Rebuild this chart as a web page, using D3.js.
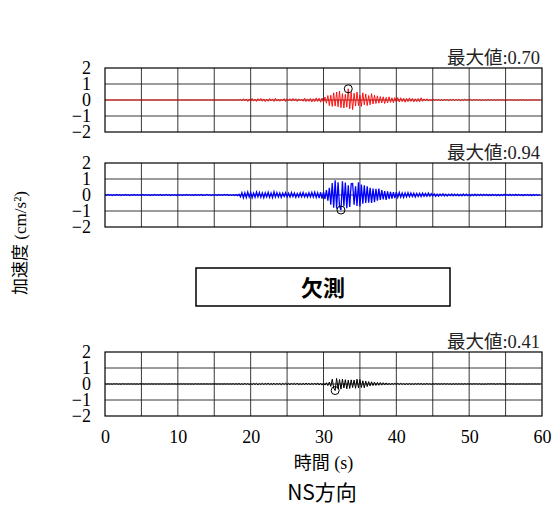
<!DOCTYPE html>
<html><head><meta charset="utf-8">
<script src="https://cdn.jsdelivr.net/npm/d3@7"></script>
<style>
body{margin:0;background:#fff;}
svg{display:block;}
</style></head>
<body>
<svg id="chart" width="554" height="507"></svg>
<script>
// ---- data ----
const dt = 0.2; // seconds per sample
const xTicks = [0,10,20,30,40,50,60];
const yTicks = [2,1,0,-1,-2];
const maxLabel = "最大値:";
const yLabel = "加速度 (cm/s²)";
const xLabel = "時間 (s)";
const missingLabel = "欠測";
const title = "NS方向";

const seriesTop = [
0,0,0,0,0,0,0,0,0,0,
0,0,0,0,0,0,0,0,0,0,
0,0,0,0,0,0,0,0,0,0,
0,0,0,0,0,0,0,0,0,0,
0,0,0,0,0,0,0,0,0,0,
0,0,0,0,0,0,0,0,0,0,
0,0,0,0,0,0,0,0,0,0,
0,0,0,0,0,0,0,0,0,0,
0,0,0,0,0,0,0,0,0,0,
0,0,0,0.04,-0.06,0.08,-0.05,0.07,-0.09,0.06,
-0.08,0.1,-0.07,0.05,-0.09,0.08,-0.06,0.1,-0.08,0.07,
-0.1,0.06,-0.08,0.09,-0.05,0.07,-0.09,0.11,-0.07,0.06,
-0.08,0.05,-0.06,0.09,-0.1,0.07,-0.05,0.08,-0.07,0.1,
-0.06,0.08,-0.09,0.07,-0.05,0.06,-0.08,0.12,-0.1,0.07,
-0.09,0.1,-0.12,0.08,-0.1,0.13,-0.09,0.11,-0.14,0.12,
-0.15,0.18,-0.2,0.28,-0.35,0.3,-0.4,0.45,-0.38,0.5,
-0.42,0.55,-0.48,0.4,-0.5,0.35,-0.45,0.7,-0.55,0.48,
-0.6,0.42,-0.38,0.5,-0.35,0.3,-0.4,0.45,-0.3,0.38,
-0.35,0.28,-0.3,0.4,-0.25,0.3,-0.22,0.26,-0.2,0.22,
-0.18,0.2,-0.22,0.16,-0.18,0.2,-0.15,0.14,-0.17,0.15,
-0.13,0.15,-0.12,0.14,-0.1,0.12,-0.14,0.11,-0.1,0.13,
-0.09,0.1,-0.12,0.08,-0.1,0.09,-0.11,0.14,-0.08,0.07,
-0.06,0.08,-0.07,0.05,-0.06,0.07,-0.05,0.06,-0.04,0.05,
-0.05,0.04,-0.06,0.05,-0.04,0.06,-0.05,0.04,-0.03,0.05,
-0.04,0.05,-0.03,0.04,-0.05,0.03,-0.04,0.05,-0.03,0.04,
-0.03,0.04,-0.04,0.03,-0.02,0.04,-0.03,0.03,-0.04,0.02,
-0.03,0.02,-0.03,0.04,-0.02,0.03,-0.02,0.03,-0.03,0.02,
-0.02,0.03,-0.02,0.02,-0.03,0.02,-0.02,0.03,-0.02,0.02,
-0.02,0.02,-0.03,0.02,-0.02,0.02,-0.01,0.02,-0.02,0.01,
-0.02,0.01,-0.02,0.02,-0.01,0.02,-0.01,0.01,-0.02,0.01
];

const seriesMid = [
0.02,-0.02,0.03,-0.02,0.02,-0.03,0.02,-0.02,0.03,-0.02,
0.02,-0.03,0.02,-0.02,0.03,-0.02,0.02,-0.03,0.02,-0.02,
0.03,-0.02,0.02,-0.02,0.02,-0.03,0.03,-0.02,0.02,-0.02,
0.02,-0.03,0.02,-0.02,0.03,-0.02,0.02,-0.02,0.03,-0.03,
0.02,-0.02,0.03,-0.02,0.02,-0.03,0.02,-0.02,0.02,-0.03,
0.03,-0.02,0.02,-0.03,0.02,-0.02,0.03,-0.02,0.02,-0.02,
0.02,-0.03,0.03,-0.02,0.02,-0.02,0.03,-0.03,0.02,-0.02,
0.03,-0.02,0.02,-0.03,0.02,-0.02,0.02,-0.03,0.03,-0.02,
0.02,-0.02,0.03,-0.02,0.03,-0.03,0.02,-0.02,0.02,-0.03,
0.03,-0.04,0.05,-0.12,0.15,-0.18,0.14,-0.16,0.19,-0.13,
0.15,-0.17,0.12,-0.14,0.18,-0.12,0.16,-0.15,0.13,-0.17,
0.14,-0.12,0.17,-0.15,0.12,-0.16,0.2,-0.13,0.15,-0.12,
0.13,-0.15,0.12,-0.1,0.14,-0.12,0.11,-0.13,0.15,-0.1,
0.12,-0.14,0.1,-0.12,0.13,-0.11,0.15,-0.12,0.1,-0.13,
0.14,-0.12,0.16,-0.13,0.18,-0.15,0.14,-0.2,0.17,-0.22,
0.2,-0.25,0.3,-0.35,0.45,-0.6,0.75,-0.8,0.92,-0.85,
0.8,-0.7,-0.94,0.85,-0.7,0.78,-0.82,0.6,-0.75,0.7,
0.72,-0.6,0.55,-0.68,0.8,-0.72,0.65,-0.55,0.6,-0.5,
0.55,-0.48,0.45,-0.5,0.4,-0.45,0.38,-0.35,0.4,-0.3,
0.3,-0.28,0.25,-0.3,0.22,-0.25,0.2,-0.22,0.18,-0.2,
0.18,-0.15,0.16,-0.14,0.12,-0.15,0.13,-0.12,0.14,-0.11,
0.12,-0.1,0.11,-0.12,0.1,-0.09,0.11,-0.1,0.12,-0.08,
0.1,-0.08,0.12,-0.07,0.08,-0.06,0.07,-0.08,0.06,-0.07,
0.06,-0.05,0.07,-0.06,0.05,-0.06,0.05,-0.04,0.06,-0.05,
0.05,-0.04,0.05,-0.05,0.04,-0.05,0.06,-0.04,0.05,-0.04,
0.04,-0.05,0.04,-0.04,0.05,-0.04,0.04,-0.03,0.04,-0.04,
0.04,-0.03,0.04,-0.04,0.03,-0.04,0.04,-0.03,0.03,-0.04,
0.03,-0.04,0.03,-0.03,0.04,-0.03,0.03,-0.03,0.04,-0.03,
0.03,-0.03,0.04,-0.03,0.03,-0.03,0.03,-0.04,0.03,-0.03,
0.03,-0.03,0.03,-0.04,0.03,-0.03,0.03,-0.03,0.02,-0.03
];

const seriesBot = [
0.01,-0.01,0.01,-0.01,0.01,-0.02,0.02,-0.01,0.02,-0.02,
0.01,-0.02,0.02,-0.01,0.01,-0.01,0.01,-0.01,0.01,-0.01,
0.01,-0.01,0.01,-0.02,0.02,-0.01,0.01,-0.01,0.01,-0.01,
0.01,-0.01,0.01,-0.01,0.01,-0.01,0.01,-0.01,0.01,-0.01,
0.01,-0.01,0.01,-0.01,0.01,-0.01,0.01,-0.01,0.01,-0.01,
0.01,-0.01,0.01,-0.01,0.01,-0.01,0.01,-0.01,0.01,-0.01,
0.01,-0.02,0.02,-0.01,0.01,-0.01,0.01,-0.01,0.01,-0.01,
0.01,-0.01,0.01,-0.01,0.01,-0.01,0.01,-0.01,0.01,-0.01,
0.01,-0.01,0.01,-0.01,0.01,-0.01,0.01,-0.01,0.02,-0.02,
0.02,-0.02,0.03,-0.03,0.02,-0.03,0.04,-0.03,0.03,-0.04,
0.03,-0.04,0.04,-0.03,0.04,-0.05,0.03,-0.04,0.05,-0.04,
0.04,-0.03,0.05,-0.04,0.03,-0.04,0.05,-0.05,0.04,-0.03,
0.04,-0.05,0.04,-0.03,0.05,-0.04,0.04,-0.05,0.06,-0.04,
0.05,-0.04,0.06,-0.05,0.04,-0.06,0.05,-0.05,0.06,-0.04,
0.05,-0.06,0.05,-0.04,0.06,-0.05,0.07,-0.06,0.05,-0.07,
0.06,-0.07,0.08,-0.1,0.12,-0.15,0.3,-0.25,-0.41,0.35,
-0.3,0.28,-0.32,0.3,-0.25,0.27,-0.3,0.24,-0.28,0.26,
-0.22,0.25,-0.27,0.3,-0.24,0.28,-0.22,0.2,-0.24,0.18,
-0.16,0.15,-0.12,0.14,-0.1,0.12,-0.09,0.1,-0.08,0.09,
-0.07,0.08,-0.06,0.07,-0.06,0.05,-0.06,0.05,-0.04,0.05,
-0.04,0.04,-0.03,0.04,-0.03,0.03,-0.04,0.03,-0.03,0.03,
-0.03,0.02,-0.03,0.03,-0.02,0.03,-0.02,0.03,-0.03,0.02,
-0.02,0.03,-0.02,0.02,-0.03,0.02,-0.02,0.03,-0.02,0.02,
-0.02,0.02,-0.02,0.03,-0.02,0.02,-0.02,0.02,-0.03,0.02,
-0.02,0.02,-0.02,0.02,-0.02,0.02,-0.02,0.02,-0.02,0.02,
-0.02,0.02,-0.02,0.02,-0.01,0.02,-0.02,0.02,-0.02,0.01,
-0.02,0.01,-0.02,0.02,-0.01,0.02,-0.01,0.02,-0.02,0.01,
-0.01,0.02,-0.01,0.01,-0.02,0.01,-0.01,0.02,-0.01,0.01,
-0.01,0.01,-0.02,0.01,-0.01,0.01,-0.01,0.01,-0.01,0.01,
-0.01,0.01,-0.01,0.01,-0.01,0.01,-0.01,0.01,-0.01,0.01
];

const panelColors = ["#ff0000","#0000ff","#000000"];
const panelWidths = [0.9, 1.3, 1.0];

// ---- layout ----
const svg = d3.select("#chart");
const left = 105, right = 542;
const panelTops = [68, 163, 352];
const panelH = 64;
const serif = "'Liberation Serif','Times New Roman','Noto Sans CJK JP',serif";
const sans = "'Noto Sans CJK JP','Noto Sans',sans-serif";

const x = d3.scaleLinear().domain([0,60]).range([left,right]);
const gridX = d3.range(0, 61, 5);

function drawPanel(top, values, color, width, showX) {
  const y = d3.scaleLinear().domain([-2,2]).range([top+panelH, top]);
  const g = svg.append("g");
  g.selectAll(".gx").data(gridX.slice(1,-1)).join("line")
    .attr("x1", d=>x(d)).attr("x2", d=>x(d))
    .attr("y1", top).attr("y2", top+panelH)
    .attr("stroke", "#222").attr("stroke-width", 0.9);
  g.selectAll(".gy").data([1,0,-1]).join("line")
    .attr("x1", left).attr("x2", right)
    .attr("y1", d=>y(d)).attr("y2", d=>y(d))
    .attr("stroke", "#222").attr("stroke-width", 0.9);
  const line = d3.line().x((d,i)=>x(i*dt)).y(d=>y(d));
  g.append("path").datum(values)
    .attr("d", line).attr("fill","none")
    .attr("stroke", color).attr("stroke-width", width);
  g.append("rect").attr("x", left).attr("y", top)
    .attr("width", right-left).attr("height", panelH)
    .attr("fill","none").attr("stroke","#000").attr("stroke-width",1.2);
  const idx = d3.maxIndex(values, v=>Math.abs(v));
  g.append("circle").attr("cx", x(idx*dt)).attr("cy", y(values[idx]))
    .attr("r", 4).attr("fill","none").attr("stroke","#000").attr("stroke-width",1);
  g.append("text").attr("x", right-2).attr("y", top-4)
    .attr("text-anchor","end").attr("font-family", serif).attr("font-size", 18.5)
    .attr("fill","#222")
    .text(maxLabel + d3.format(".2f")(Math.abs(values[idx])));
  const ya = g.append("g").attr("transform", `translate(${left},0)`)
    .call(d3.axisLeft(y).tickValues(yTicks).tickSize(0).tickPadding(14).tickFormat(d3.format("d")));
  ya.select(".domain").remove();
  ya.selectAll("text").attr("font-family", serif).attr("font-size", 18).attr("fill","#000");
  if (showX) {
    const xa = g.append("g").attr("transform", `translate(0,${top+panelH})`)
      .call(d3.axisBottom(x).tickValues(xTicks).tickSize(0).tickPadding(14));
    xa.select(".domain").remove();
    xa.selectAll("text").attr("font-family", serif).attr("font-size", 18).attr("fill","#000");
  }
}

panelTops.forEach((t, i) => drawPanel(t, [seriesTop, seriesMid, seriesBot][i], panelColors[i], panelWidths[i], i === 2));

// missing box
svg.append("rect").attr("x", 196).attr("y", 268).attr("width", 254).attr("height", 38)
  .attr("fill","#fff").attr("stroke","#000").attr("stroke-width",1.5);
svg.append("text").attr("x", 323).attr("y", 296).attr("text-anchor","middle")
  .attr("font-family", sans).attr("font-size", 22).attr("font-weight","bold")
  .text(missingLabel);

// axis titles
svg.append("text").attr("x", (left+right)/2).attr("y", 469).attr("text-anchor","middle")
  .attr("font-family", serif).attr("font-size", 18).text(xLabel);
svg.append("text").attr("transform", "translate(26,243) rotate(-90)").attr("text-anchor","middle")
  .attr("font-family", serif).attr("font-size", 17).text(yLabel);

// title
svg.append("text").attr("x", 322).attr("y", 500).attr("text-anchor","middle")
  .attr("font-family", sans).attr("font-size", 21).text(title);
</script>
</body></html>
